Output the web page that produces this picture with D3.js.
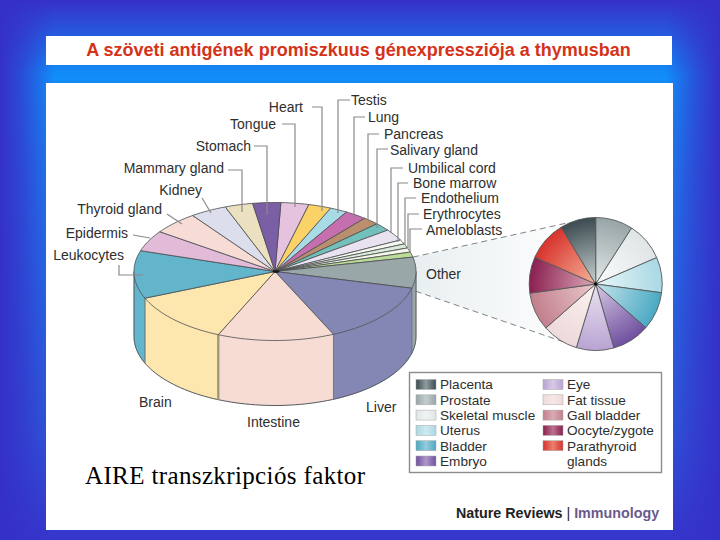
<!DOCTYPE html>
<html>
<head>
<meta charset="utf-8">
<script src="https://cdnjs.cloudflare.com/ajax/libs/d3/7.8.5/d3.min.js"></script>
<style>html,body{margin:0;padding:0;background:#fff}svg{display:block}</style>
</head>
<body>
<svg id="c" width="720" height="540"></svg>
<script>
const title = "A szöveti antigének promiszkuus génexpressziója a thymusban";
const caption = "AIRE transzkripciós faktor";
const credit1 = "Nature Reviews";
const credit2 = "Immunology";

// main pie, clockwise starting at Tongue
const tissues = ["Tongue","Heart","Testis","Lung","Pancreas","Salivary gland","Umbilical cord","Bone marrow","Endothelium","Erythrocytes","Ameloblasts","Other","Liver","Intestine","Brain","Leukocytes","Epidermis","Thyroid gland","Kidney","Mammary gland","Stomach"];
const shares = [3.2,2.6,2.0,2.5,1.9,1.9,2.7,1.0,1.0,1.0,1.2,7.25,14.3,13.4,12.1,11.2,4.9,5.3,4.2,3.2,3.2];
const tissueColors = ["#e5c2de","#fbd268","#a9dbe6","#c66fae","#b98f6e","#72c0b9","#e9e2f1","#f6f8f2","#dcecdc","#f4f7ea","#bcdb98","#9aa7a8","#8486b4","#f6dcd3","#fde7ae","#63b5cb","#e2bbd9","#f7dcd5","#dcdfeb","#ebe0c0","#7b5fa6"];

// exploded "Other" pie, clockwise from the top
const otherTissues = ["Prostate","Skeletal muscle","Uterus","Bladder","Embryo","Eye","Fat tissue","Gall bladder","Oocyte/zygote","Parathyroid glands","Placenta"];
const otherShares = [9.1,9.4,8.6,9.3,9.2,9.1,8.8,9.3,8.8,9.7,8.7];
const otherColors = ["#97a5a6","#dfe5e6","#a9d8e4","#4aa9c3","#6f4f9f","#b9a3d3","#eed9da","#c27f8c","#8a1f50","#d8322c","#3b4b50"];
const otherCenter = ["#e4e8e8","#fbfcfc","#e9f6f9","#c6e4ec","#d8cbe4","#ebe3f1","#fbf2f0","#e9c9cd","#dba9b8","#f4b49a","#c9d2d3"];

// legend (left column, right column)
const legendLeft = ["Placenta","Prostate","Skeletal muscle","Uterus","Bladder","Embryo"];
const legendRight = ["Eye","Fat tissue","Gall bladder","Oocyte/zygote","Parathyroid"];
const legendExtra = "glands";

// label layout: [x, y, anchor, leader path points]
const labelLayout = {
 "Heart":[303,107,"end",[[312,107],[322,107],[322,211]]],
 "Tongue":[276,124,"end",[[282,124],[295,124],[295,207]]],
 "Testis":[351,100,"start",[[350,100],[338,100],[338,213]]],
 "Lung":[368,117,"start",[[365,117],[354,117],[354,218]]],
 "Pancreas":[384,134,"start",[[379,134],[368,134],[368,220]]],
 "Salivary gland":[390,149.5,"start",[[388,149],[377,149],[377,228]]],
 "Umbilical cord":[408,168,"start",[[403,168],[391,168],[391,233]]],
 "Bone marrow":[413,183,"start",[[408,183],[398,183],[398,242]]],
 "Endothelium":[421,198,"start",[[416,198],[405,198],[405,245]]],
 "Erythrocytes":[423,214,"start",[[419,214],[408,214],[408,248]]],
 "Ameloblasts":[426,229.5,"start",[[422,229],[410,229],[410,253]]],
 "Stomach":[251,146,"end",[[254,146],[267,146],[267,215]]],
 "Mammary gland":[224,168,"end",[[228,170],[242,170],[242,212]]],
 "Kidney":[202,189.5,"end",[[202,198],[211,213]]],
 "Thyroid gland":[162,208.5,"end",[[167,214],[182,224]]],
 "Epidermis":[128,233,"end",[[133,235],[150,238]]],
 "Leukocytes":[124,254.5,"end",[[119,265],[119,275],[143,275]]],
 "Other":[426,274,"start",[]],
 "Liver":[366,407,"start",[]],
 "Intestine":[247,422,"start",[]],
 "Brain":[139,402,"start",[]]
};

const svg = d3.select("#c");
const defs = svg.append("defs");
const W = 720, H = 540;

// background
const bgV = defs.append("linearGradient").attr("id","bgV").attr("x1",0).attr("x2",0).attr("y1",0).attr("y2",1);
[[0,"#3730c8"],[0.14,"#0c9aff"],[0.32,"#1a84f2"],[0.8,"#2c5cdc"],[1,"#3636cc"]].forEach(s=>bgV.append("stop").attr("offset",s[0]).attr("stop-color",s[1]));
const bgH = defs.append("linearGradient").attr("id","bgH").attr("x1",0).attr("x2",1).attr("y1",0).attr("y2",0);
[[0,1],[0.03,0.72],[0.075,0.12],[0.925,0.12],[0.965,0.65],[1,1]].forEach(s=>bgH.append("stop").attr("offset",s[0]).attr("stop-color","#3530c8").attr("stop-opacity",s[1]));
svg.append("rect").attr("width",W).attr("height",H).attr("fill","url(#bgV)");
svg.append("rect").attr("width",W).attr("height",H).attr("fill","url(#bgH)");

svg.append("rect").attr("x",46).attr("y",36).attr("width",626).attr("height",29).attr("fill","#fff");
svg.append("rect").attr("x",46).attr("y",83).attr("width",627).attr("height",447).attr("fill","#fff");

svg.append("text").attr("x",358.5).attr("y",56).attr("text-anchor","middle")
  .attr("font-family","Liberation Sans").attr("font-weight","bold").attr("font-size",18)
  .attr("fill","#d4331a").text(title);

// 3D pie scales
const cx = 275, cy = 271.5, rx = 141, ry = 69, depth = 65;
const deg = Math.PI/180;
const pie = d3.pie().sort(null).value(d=>d.v).startAngle(2.4*deg).endAngle(362.4*deg);
const slices = pie(tissues.map((n,i)=>({n,v:shares[i],c:tissueColors[i]})));
const sx = d3.scaleLinear().domain([-1,1]).range([cx-rx,cx+rx]);
const sy = d3.scaleLinear().domain([-1,1]).range([cy-ry,cy+ry]);
const px = (a,r=1)=>sx(r*Math.sin(a));
const py = (a,r=1)=>sy(-r*Math.cos(a));
function arcPts(a0,a1,dy=0,rev=false){
  const n=Math.max(2,Math.ceil((a1-a0)/(2*deg)));
  const pts=d3.range(n+1).map(i=>{const a=a0+(a1-a0)*i/n;return [px(a),py(a)+dy];});
  return rev?pts.reverse():pts;
}
const line = d3.line();
const coneLayer = svg.append("g");
const pieG = svg.append("g");

// side wall: visible only where the rim faces the viewer
const wall = pieG.append("g");
slices.forEach(s=>{
  const a0=Math.max(s.startAngle,90*deg), a1=Math.min(s.endAngle,270*deg);
  if(a1<=a0) return;
  const top=arcPts(a0,a1), bottom=arcPts(a0,a1,depth,true);
  wall.append("path").attr("d",line(top.concat(bottom))+"Z").attr("fill",s.data.c).attr("stroke",s.data.c).attr("stroke-width",0.5);
});
// rim outline
wall.append("path").attr("d",line(arcPts(90*deg,270*deg,depth))).attr("fill","none").attr("stroke","#555a62").attr("stroke-width",1);
[90,270].forEach(a=>wall.append("path").attr("d",line([[px(a*deg),py(a*deg)],[px(a*deg),py(a*deg)+depth]])).attr("stroke","#555a62").attr("stroke-width",1));
// wall seams
slices.forEach(s=>{
  const a=s.startAngle;
  if(a>90*deg && a<270*deg){
    wall.append("path").attr("d",line([[px(a),py(a)],[px(a),py(a)+depth]]))
      .attr("stroke",s.data.n==="Brain"?"#a09a7c":"#6f7378").attr("stroke-width",s.data.n==="Brain"?2.4:1);
  }
});

// top face
const topFace = pieG.append("g");
slices.forEach(s=>{
  const pts=[[cx,cy]].concat(arcPts(s.startAngle,s.endAngle));
  topFace.append("path").attr("d",line(pts)+"Z").attr("fill",s.data.c).attr("stroke","#4a4d4f").attr("stroke-width",0.8).attr("stroke-linejoin","round");
});
topFace.append("ellipse").attr("cx",cx+1).attr("cy",cy).attr("rx",3.5).attr("ry",1.4).attr("fill","#1a1a1a");

// zoom cone towards the detail pie
const ocx=595.7, ocy=284, or=66.5;
const cone = defs.append("linearGradient").attr("id","cone").attr("gradientUnits","userSpaceOnUse").attr("x1",415).attr("x2",560).attr("y1",0).attr("y2",0);
cone.append("stop").attr("offset",0).attr("stop-color","#e9eff1");
cone.append("stop").attr("offset",1).attr("stop-color","#fcfdfd");
const other = slices.find(s=>s.data.n==="Other");
const oa0=other.startAngle, oa1=other.endAngle;
const coneTop=[px(oa0),py(oa0)], coneBot=[px(oa1)+4,py(oa1)+3];
coneLayer.append("path").attr("d",line([coneTop,[567,223],[567,343],coneBot])+"Z").attr("fill","url(#cone)");
[[coneTop,[567,223]],[coneBot,[567,343]]].forEach(l=>coneLayer.append("path").attr("d",line(l)).attr("stroke","#808486").attr("stroke-width",1).attr("stroke-dasharray","6 4").attr("fill","none"));

// detail pie
const oPie = d3.pie().sort(null).value(d=>d)(otherShares);
const oArc = d3.arc().innerRadius(0).outerRadius(or);
const oG = svg.append("g").attr("transform",`translate(${ocx},${ocy})`);
oPie.forEach((s,i)=>{
  const id="og"+i;
  const g=defs.append("radialGradient").attr("id",id).attr("gradientUnits","userSpaceOnUse").attr("cx",0).attr("cy",0).attr("r",or);
  g.append("stop").attr("offset",0).attr("stop-color",otherCenter[i]);
  g.append("stop").attr("offset",1).attr("stop-color",otherColors[i]);
  oG.append("path").attr("d",oArc(s)).attr("fill",`url(#${id})`).attr("stroke","#55585a").attr("stroke-width",0.9);
});
oG.append("circle").attr("r",1.8).attr("fill","#111");

// labels and leaders
const labels = svg.append("g").attr("font-family","Liberation Sans").attr("font-size",14).attr("fill","#2e2e2e");
tissues.forEach(n=>{
  const [x,y,anchor,leader]=labelLayout[n];
  if(leader.length) svg.append("path").attr("d",line(leader)).attr("fill","none").attr("stroke","#8a8a8a").attr("stroke-width",1.2);
  labels.append("text").attr("x",x).attr("y",y).attr("dy","0.36em").attr("text-anchor",anchor).text(n);
});

// legend
svg.append("rect").attr("x",409.5).attr("y",372.5).attr("width",252).attr("height",100).attr("fill","#fff").attr("stroke","#8c8c8c").attr("stroke-width",1.4);
const rowY = d3.scalePoint().domain(d3.range(6)).range([384.5,461]);
const colorOf = n=>otherColors[otherTissues.indexOf(n)];
const centerOf = n=>otherCenter[otherTissues.indexOf(n)];
function legendItem(name,key,x,row){
  const id="lg"+x+"_"+row;
  const g=defs.append("linearGradient").attr("id",id);
  const c=colorOf(key), m=centerOf(key);
  g.append("stop").attr("offset",0).attr("stop-color",c);
  g.append("stop").attr("offset",0.5).attr("stop-color",d3.interpolateRgb(c,m)(0.6));
  g.append("stop").attr("offset",1).attr("stop-color",c);
  svg.append("rect").attr("x",x).attr("y",rowY(row)-5).attr("width",20).attr("height",10).attr("fill",`url(#${id})`).attr("stroke","#a8a8a8").attr("stroke-width",0.5);
  svg.append("text").attr("x",x+24).attr("y",rowY(row)).attr("dy","0.36em").attr("font-family","Liberation Sans").attr("font-size",13.6).attr("fill","#2e2e2e").text(name);
}
legendLeft.forEach((n,i)=>legendItem(n,n,416,i));
legendRight.forEach((n,i)=>legendItem(n,n==="Parathyroid"?"Parathyroid glands":n,543,i));
svg.append("text").attr("x",567).attr("y",rowY(5)).attr("dy","0.36em").attr("font-family","Liberation Sans").attr("font-size",13.6).attr("fill","#2e2e2e").text(legendExtra);

// caption and credit
svg.append("text").attr("x",85).attr("y",484).attr("font-family","Liberation Serif").attr("font-size",25)
  .attr("textLength",280).attr("lengthAdjust","spacing").attr("fill","#000").text(caption);
const cr = svg.append("text").attr("x",456).attr("y",518).attr("font-family","Liberation Sans").attr("font-weight","bold").attr("font-size",14.3);
cr.append("tspan").attr("fill","#222").text(credit1+" ");
cr.append("tspan").attr("fill","#222").attr("font-weight","normal").text("| ");
cr.append("tspan").attr("fill","#6a5a8c").text(credit2);
</script>
</body>
</html>
